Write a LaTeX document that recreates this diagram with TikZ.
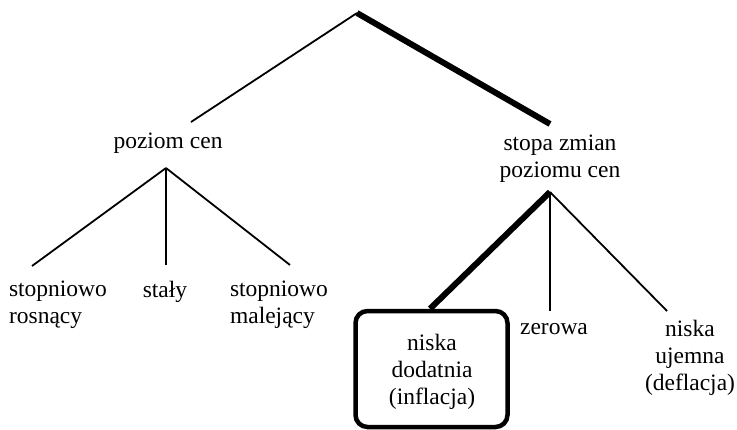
\documentclass[tikz,border=0pt]{standalone}
\usepackage{fontspec}
\setmainfont{Liberation Serif}
\usetikzlibrary{positioning}

\begin{document}
\begin{tikzpicture}[x=1pt,y=-1pt,
    txt/.style={align=center,anchor=base,inner sep=0pt,font=\fontsize{23.5}{27}\selectfont},
    cienka/.style={line width=1.8pt},
    gruba/.style={line width=6pt}]
    \useasboundingbox (0,0) rectangle (737,429);

    \coordinate (top) at (357,13);
    \coordinate (l) at (191,122);
    \coordinate (r) at (550,124);
    \coordinate (la) at (166,168);
    \coordinate (ra) at (550,192);
    \coordinate (l1) at (32,266);
    \coordinate (l2) at (166,265);
    \coordinate (l3) at (290,265);
    \coordinate (r2) at (550,311);
    \coordinate (r3) at (667,311);

    % anchor=base: baseline of the last line
    \node (PC) [txt] at (168,148) {poziom cen};
    \node (SZ) [txt] at (560,177) {stopa zmian\\poziomu cen};

    \node (SR) [txt,align=left] at (58,323) {stopniowo\\rosnący};
    \node (ST) [txt] at (165,297) {stały};
    \node (SM) [txt,align=left] at (279,323) {stopniowo\\malejący};

    \node (box) [draw,line width=4.5pt,rounded corners=12pt,minimum width=152pt,minimum height=116pt] at (431.5,369) {};
    \node (ND) [txt] at (432,404) {niska\\dodatnia\\(inflacja)};
    \node (ZE) [txt] at (554,334) {zerowa};
    \node (NU) [txt] at (690,390) {niska\\ujemna\\(deflacja)};

    \draw [cienka] (top) -- (l);
    \draw [gruba] (top) -- (r);

    \draw [cienka] (la) -- (l1);
    \draw [cienka] (la) -- (l2);
    \draw [cienka] (la) -- (l3);

    \draw [gruba] (ra) -- (box.north -| 430,0);
    \draw [cienka] (ra) -- (r2);
    \draw [cienka] (ra) -- (r3);

  \end{tikzpicture}
\end{document}
